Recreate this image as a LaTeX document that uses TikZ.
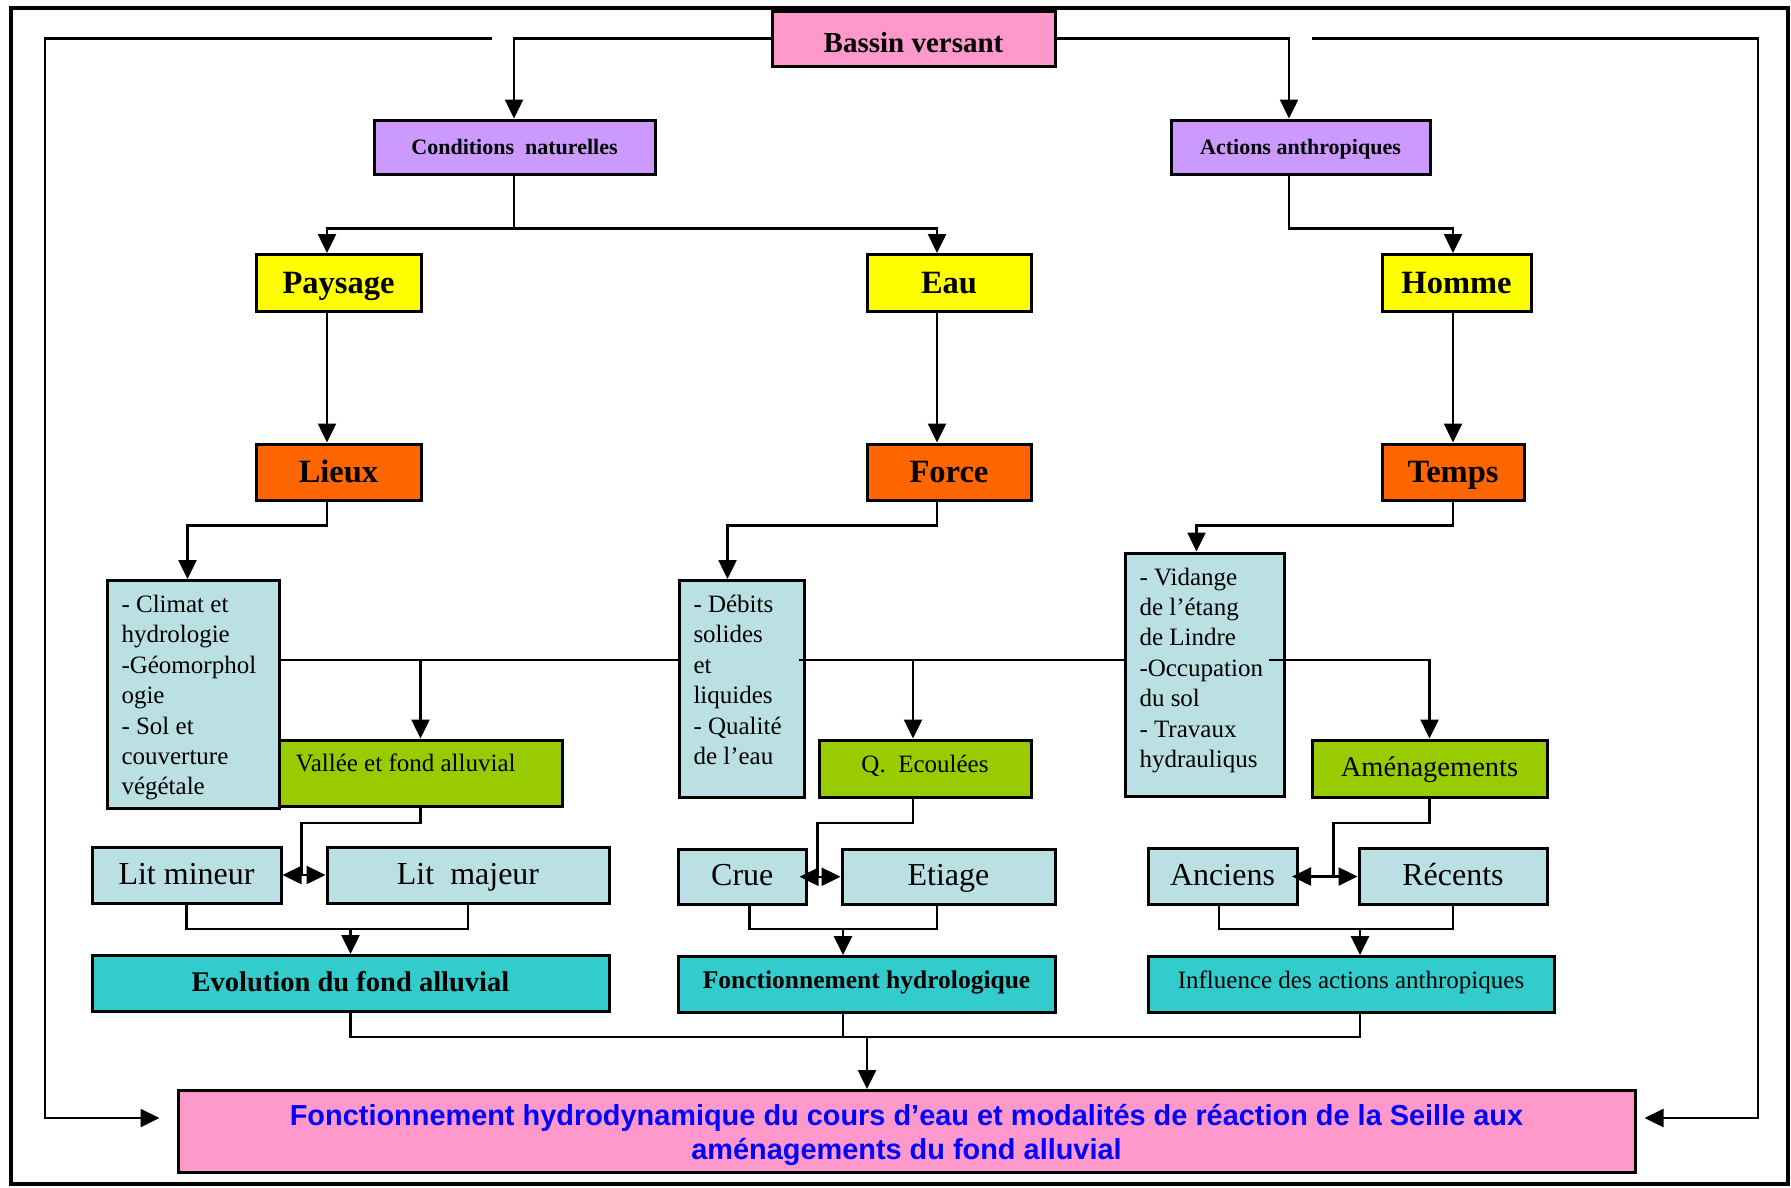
\documentclass[tikz,border=0pt]{standalone}
\usepackage{fontspec}
\setmainfont{Liberation Serif}
\newfontfamily\arialfont{Liberation Sans}
\usetikzlibrary{arrows.meta,calc}
\definecolor{rose}{HTML}{FF99CC}
\definecolor{lavande}{HTML}{CC99FF}
\definecolor{jaune}{HTML}{FFFF00}
\definecolor{orange}{HTML}{FF6600}
\definecolor{bleuclair}{HTML}{BBE0E3}
\definecolor{vert}{HTML}{99CC00}
\definecolor{turquoise}{HTML}{33CCCC}
\definecolor{bleu}{HTML}{0000FF}
\begin{document}
\begin{tikzpicture}[x=1pt,y=-1pt,line width=2.5pt,
    >={Triangle[length=19pt,width=18pt]},
    box/.style={draw,line width=3pt,inner sep=0pt,align=center,
      execute at begin node={\spaceskip=0pt\xspaceskip=0pt\relax}},
    titre/.style={box,text height=26pt,text depth=5pt,
      font=\bfseries\fontsize{32.5}{38}\selectfont},
    liste/.style={box,fill=bleuclair,anchor=north west,align=flush left,
      inner xsep=14pt,inner ysep=0pt,text height=32pt,
      font=\fontsize{25}{30.4}\selectfont},
    bloc/.style={box,fill=bleuclair,text height=24pt,text depth=6pt,
      font=\fontsize{32}{38}\selectfont}]
  \useasboundingbox (0,0) rectangle (1791,1187);
  \draw[line width=4pt] (11,8) rectangle (1788,1184);
  % boxes
  \node[box,fill=rose,minimum width=283pt,minimum height=55pt,text height=30pt,text depth=2pt,
    font=\bfseries\fontsize{29}{34}\selectfont] (bassin) at (913.5,38.5) {Bassin versant};
  \node[box,fill=lavande,minimum width=281pt,minimum height=54pt,text height=18pt,text depth=4pt,
    font=\bfseries\fontsize{22}{26}\selectfont] (cond) at (514.5,147) {Conditions\ \ naturelles};
  \node[box,fill=lavande,minimum width=259pt,minimum height=54pt,text height=18pt,text depth=4pt,
    font=\bfseries\fontsize{22}{26}\selectfont] (actions) at (1300.5,147) {Actions anthropiques};
  \node[titre,fill=jaune,minimum width=165pt,minimum height=56.5pt] (paysage) at (338.5,282.75) {Paysage};
  \node[titre,fill=jaune,minimum width=164pt,minimum height=56.5pt] (eau) at (949,282.75) {Eau};
  \node[titre,fill=jaune,minimum width=149pt,minimum height=56.5pt] (homme) at (1456.5,282.75) {Homme};
  \node[titre,fill=orange,minimum width=165pt,minimum height=56.6pt] (lieux) at (338.5,472.3) {Lieux};
  \node[titre,fill=orange,minimum width=164pt,minimum height=56.6pt] (force) at (949,472.3) {Force};
  \node[titre,fill=orange,minimum width=142pt,minimum height=56.6pt] (temps) at (1453,472.3) {Temps};
  \node[liste,text width=144pt,text depth=196pt] (climat) at (106,579)
    {- Climat et\\hydrologie\\-Géomorphol\\ogie\\- Sol et\\couverture\\végétale};
  \node[liste,text width=97pt,text depth=185pt] (debits) at (678,579)
    {- Débits\\solides\\et\\liquides\\- Qualité\\de l’eau};
  \node[liste,text width=131pt,text depth=211.5pt] (vidange) at (1124,551.5)
    {- Vidange\\de l’étang\\de Lindre\\-Occupation\\du sol\\- Travaux\\hydrauliqus};
  \node[box,fill=vert,minimum width=283pt,minimum height=66pt,align=flush left,text width=250pt,
    text height=18pt,text depth=22pt,
    font=\fontsize{25}{30}\selectfont] (vallee) at (420.5,773) {Vallée et fond alluvial};
  \node[box,fill=vert,minimum width=212pt,minimum height=57pt,text height=17pt,text depth=9.5pt,
    font=\fontsize{25}{30}\selectfont] (ecoulees) at (925,768.5) {Q.\ \ Ecoulées};
  \node[box,fill=vert,minimum width=235pt,minimum height=57.5pt,text height=22pt,text depth=6.5pt,
    font=\fontsize{28.5}{34}\selectfont] (amenag) at (1429.5,768.75) {Aménagements};
  \node[bloc,minimum width=189pt,minimum height=56pt] (litmin) at (186.5,875) {Lit mineur};
  \node[bloc,minimum width=282pt,minimum height=56pt] (litmaj) at (468,875) {Lit\ \ majeur};
  \node[bloc,minimum width=128.5pt,minimum height=55.5pt] (crue) at (742.25,876.75) {Crue};
  \node[bloc,minimum width=213pt,minimum height=55.5pt] (etiage) at (948.5,876.75) {Etiage};
  \node[bloc,minimum width=149pt,minimum height=56pt] (anciens) at (1222.5,876.5) {Anciens};
  \node[bloc,minimum width=188pt,minimum height=56pt] (recents) at (1453,876.5) {Récents};
  \node[box,fill=turquoise,minimum width=517pt,minimum height=55.5pt,text height=22pt,text depth=5.4pt,
    font=\bfseries\fontsize{28.5}{34}\selectfont] (evol) at (350.5,983.25) {Evolution du fond alluvial};
  \node[box,fill=turquoise,minimum width=377pt,minimum height=55.4pt,text height=19pt,text depth=11.6pt,
    font=\bfseries\fontsize{25.5}{30}\selectfont] (fonct) at (866.5,984.3) {Fonctionnement hydrologique};
  \node[box,fill=turquoise,minimum width=406pt,minimum height=55.4pt,text height=19pt,text depth=11.6pt,
    font=\fontsize{25}{30}\selectfont] (influ) at (1351,984.3) {Influence des actions anthropiques};
  \node[box,fill=rose,minimum width=1457pt,minimum height=82pt,text=bleu,text width=1457pt,
    align=flush center,text height=21pt,text depth=33.5pt,
    font=\arialfont\bfseries\fontsize{28.9}{34}\selectfont] (final) at (906.5,1131.5)
    {Fonctionnement hydrodynamique du cours d’eau et modalités de réaction de la Seille aux\\aménagements du fond alluvial};
  % outer loops
  \coordinate (gauche) at (492,38.5);
  \coordinate (droite) at (1312,38.5);
  \coordinate (bus) at (0,660);
  \coordinate (bas1) at (0,929);
  \coordinate (bas2) at (0,1037);
  \draw[->] (gauche) -- (45,38.5) |- ([xshift=-17pt,yshift=13.5pt]final.west);
  \draw[->] (droite) -- (1758,38.5) |- ([xshift=8pt,yshift=13.5pt]final.east);
  % tree
  \draw[->] (bassin.west) -| ([xshift=-0.5pt]cond.north);
  \draw[->] (bassin.east) -| ([xshift=-11.5pt]actions.north);
  \draw[->] ([xshift=-0.5pt]cond.south) -- ++(0,53) -| ([xshift=-11.5pt]paysage.north);
  \draw[->] ([xshift=-0.5pt]cond.south) -- ++(0,53) -| ([xshift=-12pt]eau.north);
  \draw[->] ([xshift=-11.5pt]actions.south) -- ++(0,53) -| ([xshift=-3.5pt]homme.north);
  \draw[->] ([xshift=-11.5pt]paysage.south) -- ([xshift=-11.5pt]lieux.north);
  \draw[->] ([xshift=-12pt]eau.south) -- ([xshift=-12pt]force.north);
  \draw[->] ([xshift=-3.5pt]homme.south) -- (temps.north);
  \draw[->] ([xshift=-11.5pt]lieux.south) -- ++(0,23.4) -| ([xshift=-6pt]climat.north);
  \draw[->] ([xshift=-12pt]force.south) -- ++(0,23.4) -| ([xshift=-14.5pt]debits.north);
  \draw[->] (temps.south) -- ++(0,23.4) -| ([xshift=-8.5pt]vidange.north);
  % middle bus
  \draw (climat.east |- bus) -- (debits.west |- bus);
  \draw[->] (vallee.north |- bus) -- (vallee.north);
  \draw ([xshift=-7pt]debits.east |- bus) -- (vidange.west |- bus);
  \draw[->] ([xshift=-12pt]ecoulees.north |- bus) -- ([xshift=-12pt]ecoulees.north);
  \draw[->] ([xshift=-17pt]vidange.east |- bus) -| (amenag.north);
  % pairs
  \draw (vallee.south) -- ++(0,15.5) -| ([xshift=-24pt]litmaj.west);
  \draw[<->] (litmin.east) -- (litmaj.west);
  \draw ([xshift=-12pt]ecoulees.south) -- ++(0,24.5) -| ([xshift=-23pt]etiage.west);
  \draw[<->] ([xshift=-8.5pt]crue.east) -- (etiage.west);
  \draw (amenag.south) -- ++(0,24) -| ([xshift=-24pt]recents.west);
  \draw[<->] ([xshift=-6.5pt]anciens.east) -- (recents.west);
  \draw (litmin.south) |- (litmaj.south |- bas1) -- (litmaj.south);
  \draw[->] (evol.north |- bas1) -- (evol.north);
  \draw ([xshift=7pt]crue.south) |- ([xshift=-11.5pt]etiage.south |- bas1) -- ([xshift=-11.5pt]etiage.south);
  \draw[->] ([xshift=-23.5pt]fonct.north |- bas1) -- ([xshift=-23.5pt]fonct.north);
  \draw ([xshift=-3.5pt]anciens.south) |- (recents.south |- bas1) -- (recents.south);
  \draw[->] ([xshift=9pt]influ.north |- bas1) -- ([xshift=9pt]influ.north);
  % bottom bus
  \draw (evol.south) |- ([xshift=9pt]influ.south |- bas2) -- ([xshift=9pt]influ.south);
  \draw ([xshift=-23.5pt]fonct.south) -- ([xshift=-23.5pt]fonct.south |- bas2);
  \draw[->] ([xshift=-39.5pt]final.north |- bas2) -- ([xshift=-39.5pt]final.north);
\end{tikzpicture}
\end{document}
